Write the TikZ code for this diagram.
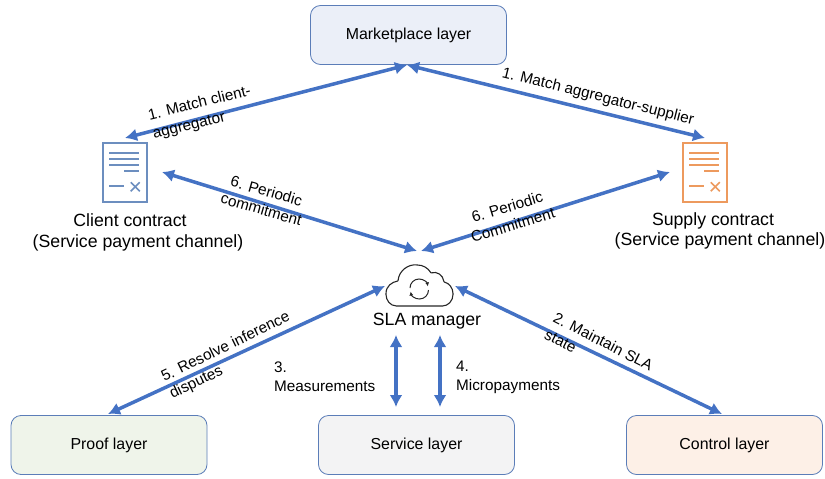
\documentclass[tikz,border=0pt]{standalone}
\usepackage{fontspec}
\setmainfont{Liberation Sans}
\usetikzlibrary{arrows.meta}
\definecolor{flow}{HTML}{4472C4}
\definecolor{cdoc}{HTML}{6C8EBF}
\definecolor{sdoc}{HTML}{ED9A5E}
\definecolor{mkfill}{HTML}{EBEFF8}
\definecolor{prooffill}{HTML}{EFF4EA}
\definecolor{servfill}{HTML}{F3F3F4}
\definecolor{ctrlfill}{HTML}{FDF0E7}
\definecolor{edge}{HTML}{5B7DB8}
\tikzset{
  layer/.style={draw=edge,line width=0.8pt,rounded corners=10pt,minimum width=196pt,minimum height=59pt,inner sep=0pt,font=\fontsize{15.9}{18}\selectfont},
  link/.style={flow,line width=3.5pt,{Latex[length=12pt,width=13pt]}-{Latex[length=12pt,width=13pt]}},
  lab/.style={font=\fontsize{15.3}{19}\selectfont,align=center,inner sep=0pt},
  captext/.style={font=\fontsize{17.7}{20.5}\selectfont,align=center,inner sep=0pt},
  docbox/.style={draw=#1,fill=white,line width=1.5pt,minimum width=44pt,minimum height=59pt,inner sep=0pt}
}
\newcommand{\docmarks}[2]{%
  \draw[#2,line width=1.7pt] ([xshift=7pt,yshift=-11pt]#1.north west) -- ++(30pt,0);
  \draw[#2,line width=1.7pt] ([xshift=7pt,yshift=-17pt]#1.north west) -- ++(30pt,0);
  \draw[#2,line width=1.7pt] ([xshift=7pt,yshift=-23pt]#1.north west) -- ++(30pt,0);
  \draw[#2,line width=1.7pt] ([xshift=22pt,yshift=-29pt]#1.north west) -- ++(15pt,0);
  \draw[#2,line width=1.7pt] ([xshift=7pt,yshift=-44pt]#1.north west) -- ++(15pt,0);
  \draw[#2,line width=1.7pt] ([xshift=28.5pt,yshift=-40pt]#1.north west) -- ++(9pt,-9pt);
  \draw[#2,line width=1.7pt] ([xshift=37.5pt,yshift=-40pt]#1.north west) -- ++(-9pt,-9pt);
}
\begin{document}
\begin{tikzpicture}[x=1pt,y=-1pt]
\useasboundingbox (0,0) rectangle (825,479);
% layers
\node[layer,fill=mkfill] (mk) at (408.5,35) {Marketplace layer};
\node[layer,fill=prooffill] (proof) at (109,445) {Proof layer};
\node[layer,fill=servfill] (service) at (416.5,445) {Service layer};
\node[layer,fill=ctrlfill] (control) at (724.5,445) {Control layer};
% contracts
\node[docbox=cdoc] (cdoc) at (125,172.5) {};
\docmarks{cdoc}{cdoc}
\node[docbox=sdoc] (sdoc) at (705,172.5) {};
\docmarks{sdoc}{sdoc}
\node[captext] (ccap) at (138,232.5) {Client contract\kern16pt\\(Service payment channel)};
\node[captext] (scap) at (720,231) {Supply contract\kern14pt\\(Service payment channel)};
% cloud
\draw[black!85,line width=1.1pt,rounded corners=0.5pt]
  (397,306) .. controls (390,306) and (386,300) .. (386,294)
  .. controls (386,286) and (392,282) .. (398,281)
  .. controls (399,270) and (409,264) .. (417,265)
  .. controls (423,265) and (428,268) .. (431,273)
  .. controls (437,271) and (443,275) .. (444,282)
  .. controls (449,283) and (453,288) .. (453,294)
  .. controls (453,301) and (448,306) .. (442,306) -- cycle;
\draw[black!85,line width=1pt,-{Latex[length=4pt,width=4pt]}] (410,288) arc[start angle=180,end angle=350,x radius=9pt,y radius=-9pt];
\draw[black!85,line width=1pt,-{Latex[length=4pt,width=4pt]}] (428.5,290) arc[start angle=0,end angle=170,x radius=9pt,y radius=-9pt];
\node[captext] (sla) at (427,321) {SLA manager};
% anchors of the free ends
\coordinate (mkin) at (407,65);
\coordinate (hub) at (419,251);
\coordinate (cl) at (385,286);
\coordinate (cr) at (455,286);
\coordinate (m3t) at (396,335);
\coordinate (m4t) at (440,335);
\coordinate (s3) at (396,407);
\coordinate (s4) at (440,407);
\coordinate (cdt) at (125,138);
\coordinate (sdt) at (705,138);
\coordinate (cde) at (162,172);
\coordinate (sde) at (670,172);
\coordinate (pt) at (108,414);
\coordinate (ct) at (722,414);
% connectors
\draw[link] (mkin) -- (cdt);
\draw[link] (mkin) -- (sdt);
\draw[link] (cde) -- ([xshift=-2pt]hub);
\draw[link] (sde) -- ([xshift=2pt]hub);
\draw[link] (cl) -- (pt);
\draw[link] (cr) -- (ct);
\draw[link] (m3t) -- (s3);
\draw[link] (m4t) -- (s4);
% labels
\node[lab,rotate=14,align=left] (l1) at (202,113) {1. Match client-\\aggregator};
\node[lab,rotate=-14] (l2) at (598,97) {1. Match aggregator-supplier};
\node[lab,rotate=-16] (l3) at (264,200) {6. Periodic\\commitment};
\node[lab,rotate=17] (l4) at (510,216) {6. Periodic\\Commitment};
\node[lab,rotate=26,align=left] (l5) at (230,356) {5. Resolve inference\\disputes};
\node[lab,rotate=-27,align=left] (l6) at (599,350) {2. Maintain SLA\\state};
\node[lab,align=left,anchor=west] (l7) at (274,377) {3.\\Measurements};
\node[lab,align=left,anchor=west] (l8) at (456,377) {4.\\Micropayments};
\end{tikzpicture}
\end{document}
